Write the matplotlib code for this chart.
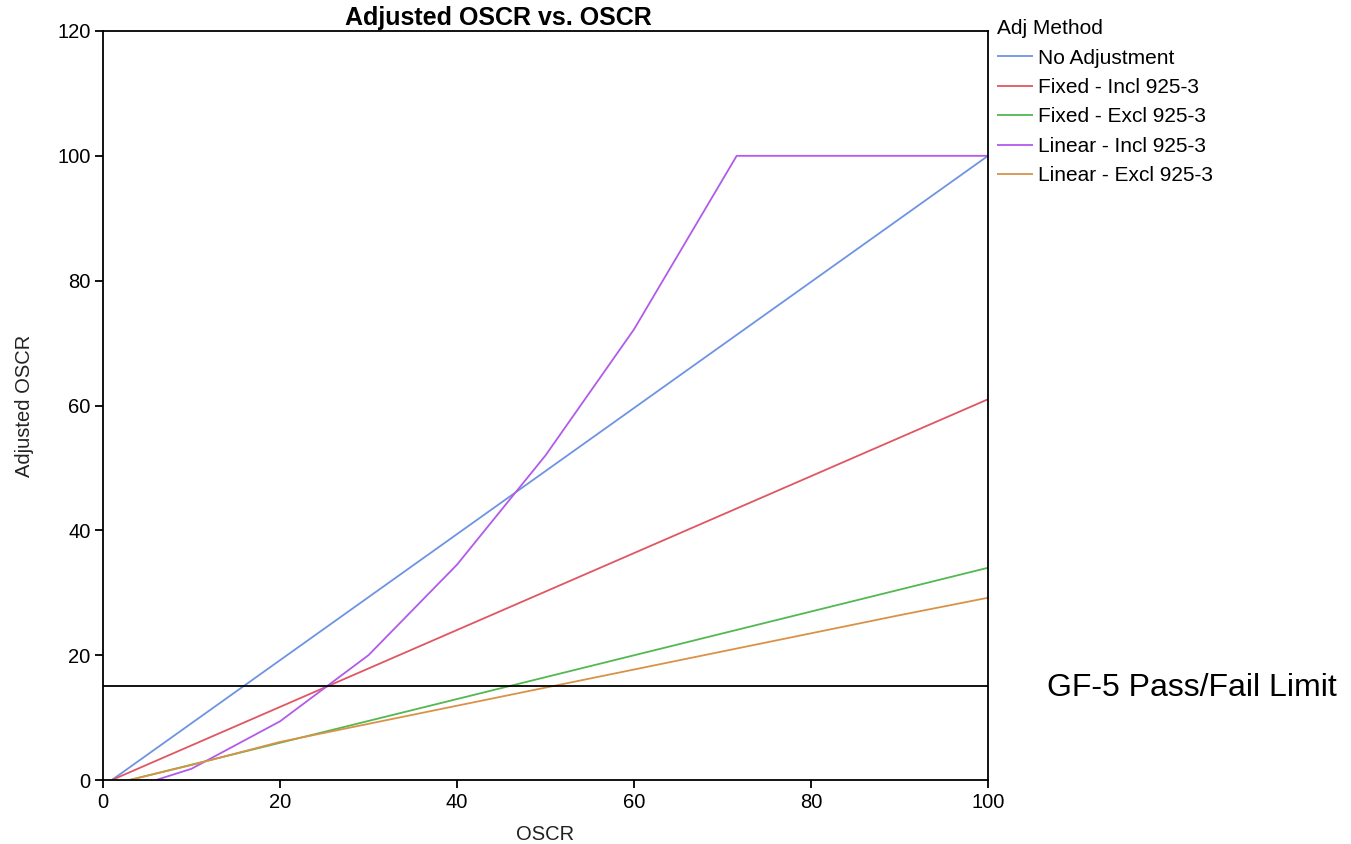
import matplotlib
matplotlib.use('Agg')
import matplotlib.pyplot as plt

plt.rcParams['font.family'] = ['Liberation Sans', 'DejaVu Sans']

# OSCR values
no_adj_x = [1, 100]
no_adj_y = [0, 100]

fixed_incl_x = [1, 100]
fixed_incl_y = [0, 61]

fixed_excl_x = [3, 100]
fixed_excl_y = [0, 34]

linear_incl_x = [6, 10, 20, 30, 40, 50, 60, 71.6, 100]
linear_incl_y = [0, 1.8, 9.4, 20, 34.5, 52, 72.2, 100, 100]

linear_excl_x = [3, 10, 20, 30, 40, 50, 60, 70, 80, 90, 100]
linear_excl_y = [0, 2.4, 6.1, 9.0, 11.9, 14.8, 17.7, 20.6, 23.5, 26.4, 29.2]

limit = 15
limit_label = 'GF-5 Pass/Fail Limit'

series = [
    ('No Adjustment', no_adj_x, no_adj_y, '#6f93e3'),
    ('Fixed - Incl 925-3', fixed_incl_x, fixed_incl_y, '#e05663'),
    ('Fixed - Excl 925-3', fixed_excl_x, fixed_excl_y, '#52b852'),
    ('Linear - Incl 925-3', linear_incl_x, linear_incl_y, '#b25aea'),
    ('Linear - Excl 925-3', linear_excl_x, linear_excl_y, '#d99248'),
]

W, H = 1351, 844
fig = plt.figure(figsize=(W / 100, H / 100), dpi=100)
ax = fig.add_axes([103 / W, 1 - 780 / H, (988 - 103) / W, (780 - 31) / H])

for name, xs, ys, color in series:
    ax.plot(xs, ys, color=color, lw=1.3, label=name, solid_capstyle='butt')

ax.axhline(limit, color='black', lw=1.3)

ax.set_xlim(0, 100)
ax.set_ylim(0, 120)
ax.set_xticks(range(0, 101, 20))
ax.set_yticks(range(0, 121, 20))
ax.tick_params(direction='out', length=6, width=1.3, labelsize=14.5,
               colors='black', pad=3)
for sp in ax.spines.values():
    sp.set_linewidth(1.3)

ax.set_xlabel('OSCR', fontsize=14.5, color='#222222', labelpad=10)
ax.set_ylabel('Adjusted OSCR', fontsize=14.5, color='#222222', labelpad=17)

fig.text(498 / W, 1 - 18 / H, 'Adjusted OSCR vs. OSCR', fontsize=18,
         fontweight='bold', ha='center', va='center')

leg = ax.legend(loc='upper left', bbox_to_anchor=(993 / W, 1 - 15 / H),
                bbox_transform=fig.transFigure, frameon=False,
                title='Adj Method', fontsize=15, title_fontsize=15,
                handlelength=1.7, handletextpad=0.25, labelspacing=0.5,
                borderaxespad=0, borderpad=0.2)
leg._legend_box.align = 'left'

fig.text(1047 / W, 1 - 688 / H, limit_label, fontsize=23,
         ha='left', va='center')

fig.savefig('out.png', dpi=100)
